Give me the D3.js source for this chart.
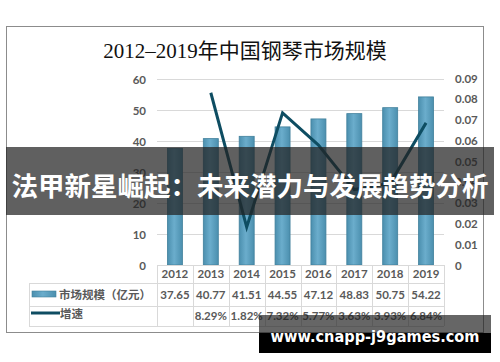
<!DOCTYPE html>
<html><head><meta charset="utf-8">
<script src="https://cdn.jsdelivr.net/npm/d3@7/dist/d3.min.js"></script>
<style>body{margin:0;background:#fff;}svg{display:block;}</style>
</head><body>
<svg id="c" width="500" height="362"></svg>
<script>
const years = ["2012","2013","2014","2015","2016","2017","2018","2019"];
const marketSize = [37.65, 40.77, 41.51, 44.55, 47.12, 48.83, 50.75, 54.22];
const growth = [null, 0.0829, 0.0182, 0.0732, 0.0577, 0.0363, 0.0393, 0.0684];
const growthLabels = ["", "8.29%", "1.82%", "7.32%", "5.77%", "3.63%", "3.93%", "6.84%"];
const leftTicks = [0, 10, 20, 30, 40, 50, 60];
const rightTicks = [0, 0.01, 0.02, 0.03, 0.04, 0.05, 0.06, 0.07, 0.08, 0.09];
const title = "2012–2019年中国钢琴市场规模";
const seriesNames = ["市场规模（亿元）", "增速"];
const banner = "法甲新星崛起：未来潜力与发展趋势分析";
const watermark = "www.cnapp-j9games.com";

const svg = d3.select("#c");
const lblFont = "Lato, 'Open Sans', 'Noto Sans CJK SC', sans-serif";
const txtCol = "#595959";

const defs = svg.append("defs");
const g1 = defs.append("linearGradient").attr("id","barg").attr("x1","0").attr("x2","1").attr("y1","0").attr("y2","0");
g1.append("stop").attr("offset","0%").attr("stop-color","#4b8fae");
g1.append("stop").attr("offset","45%").attr("stop-color","#6badcc");
g1.append("stop").attr("offset","100%").attr("stop-color","#4b8fae");

// frame
svg.append("rect").attr("x",6.5).attr("y",26.5).attr("width",477).attr("height",306)
  .attr("fill","#fff").attr("stroke","#8c8c8c").attr("stroke-width",1);

// title
svg.append("text").attr("x",245).attr("y",58).attr("text-anchor","middle")
  .attr("font-family","'Liberation Serif','DejaVu Serif','Noto Sans CJK SC',serif")
  .attr("font-size",21).attr("fill","#111").text(title);

const x = d3.scaleBand().domain(years).range([157, 444]).paddingInner(0).paddingOuter(0);
const yL = d3.scaleLinear().domain([0, 60]).range([265, 79]);
const yR = d3.scaleLinear().domain([0, 0.09]).range([265, 78]);

svg.append("g").selectAll("line").data(leftTicks.filter(d=>d>0)).join("line")
  .attr("x1",157).attr("x2",444).attr("y1",d=>Math.round(yL(d))+0.5).attr("y2",d=>Math.round(yL(d))+0.5)
  .attr("stroke","#d9d9d9").attr("stroke-width",1);

const axL = d3.axisLeft(yL).tickValues(leftTicks).tickSize(0).tickPadding(0);
const gL = svg.append("g").attr("transform","translate(146,0)").call(axL);
gL.select(".domain").remove();
gL.selectAll("text").attr("font-family",lblFont).attr("font-size",11.5).attr("font-weight","bold").attr("fill",txtCol).attr("dy","0.35em");

const axR = d3.axisRight(yR).tickValues(rightTicks).tickSize(0).tickPadding(0).tickFormat(d=> d===0 ? "0" : d3.format(".2f")(d));
const gR = svg.append("g").attr("transform","translate(455,0)").call(axR);
gR.select(".domain").remove();
gR.selectAll("text").attr("font-family",lblFont).attr("font-size",11.5).attr("font-weight","bold").attr("fill",txtCol).attr("dy","0.35em");

const bw = 15;
svg.append("g").selectAll("rect").data(marketSize).join("rect")
  .attr("x",(d,i)=>x(years[i])+x.bandwidth()/2-bw/2)
  .attr("y",d=>yL(d)).attr("width",bw).attr("height",d=>yL(0)-yL(d))
  .attr("fill","url(#barg)").attr("stroke","#41809c").attr("stroke-width",0.8);

const lineData = growth.map((v,i)=>({v, y:years[i]})).filter(d=>d.v!==null);
svg.append("path").datum(lineData)
  .attr("d", d3.line().x(d=>x(d.y)+x.bandwidth()/2).y(d=>yR(d.v)))
  .attr("fill","none").attr("stroke","#0e4d62").attr("stroke-width",3).attr("stroke-linejoin","miter");

const tg = svg.append("g");
const gridCol = "#d9d9d9";
tg.append("line").attr("x1",157).attr("x2",444).attr("y1",265.5).attr("y2",265.5).attr("stroke",gridCol);
[283,306,326].forEach(yy=>{
  tg.append("line").attr("x1",29).attr("x2",444).attr("y1",yy+0.5).attr("y2",yy+0.5).attr("stroke",gridCol);
});
tg.append("line").attr("x1",29.5).attr("x2",29.5).attr("y1",283).attr("y2",326).attr("stroke",gridCol);
const vx = years.map(yr=>x(yr)).concat([444]);
tg.selectAll("line.v").data(vx).join("line").attr("class","v")
  .attr("x1",d=>Math.round(d)+0.5).attr("x2",d=>Math.round(d)+0.5).attr("y1",265).attr("y2",326).attr("stroke",gridCol);
tg.selectAll("text.yr").data(years).join("text").attr("class","yr")
  .attr("x",d=>x(d)+x.bandwidth()/2).attr("y",278).attr("text-anchor","middle")
  .attr("font-family",lblFont).attr("font-size",11.5).attr("font-weight","bold").attr("fill",txtCol).text(d=>d);
tg.selectAll("text.ms").data(marketSize).join("text").attr("class","ms")
  .attr("x",(d,i)=>x(years[i])+x.bandwidth()/2).attr("y",299).attr("text-anchor","middle")
  .attr("font-family",lblFont).attr("font-size",11.5).attr("font-weight","bold").attr("fill",txtCol).text(d=>d3.format(".2f")(d));
tg.selectAll("text.gr").data(growthLabels).join("text").attr("class","gr")
  .attr("x",(d,i)=>x(years[i])+x.bandwidth()/2).attr("y",320).attr("text-anchor","middle")
  .attr("font-family",lblFont).attr("font-size",11.5).attr("font-weight","bold").attr("fill",txtCol).text(d=>d);
tg.append("rect").attr("x",32).attr("y",291).attr("width",24).attr("height",6).attr("fill","url(#barg)").attr("stroke","#41809c").attr("stroke-width",0.6);
tg.append("text").attr("x",59).attr("y",299).attr("font-family","'Noto Sans CJK SC',sans-serif").attr("font-size",11.5).attr("font-weight","bold").attr("fill",txtCol).text(seriesNames[0]);
tg.append("line").attr("x1",31).attr("x2",60).attr("y1",313).attr("y2",313).attr("stroke","#0e4d62").attr("stroke-width",3);
tg.append("text").attr("x",60).attr("y",318).attr("font-family","'Noto Sans CJK SC',sans-serif").attr("font-size",11.5).attr("font-weight","bold").attr("fill",txtCol).text(seriesNames[1]);

svg.append("rect").attr("x",6).attr("y",147).attr("width",488).attr("height",68).attr("fill","rgba(35,35,35,0.72)");
svg.append("text").attr("x",250).attr("y",196).attr("text-anchor","middle")
  .attr("font-family","'Noto Sans CJK SC',sans-serif").attr("font-weight","bold").attr("font-size",26.5)
  .attr("fill","#fff").text(banner);

svg.append("rect").attr("x",259).attr("y",315).attr("width",232).attr("height",18).attr("fill","rgba(30,30,30,0.68)");
svg.append("rect").attr("x",259).attr("y",333).attr("width",232).attr("height",20).attr("fill","#000");
svg.append("text").attr("x",375).attr("y",342).attr("text-anchor","middle")
  .attr("font-family","'DejaVu Sans',sans-serif").attr("font-weight","bold").attr("font-size",16.5)
  .attr("textLength",209).attr("lengthAdjust","spacingAndGlyphs")
  .attr("fill","#fff").text(watermark);
</script>
</body></html>
